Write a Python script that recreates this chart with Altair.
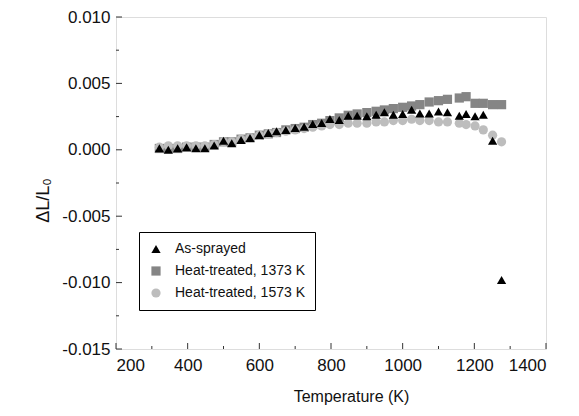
import altair as alt
import pandas as pd

temps = [321, 346, 372, 397, 423, 448, 474, 500, 523, 549, 574, 600, 625, 648, 674, 700,
         725, 749, 774, 797, 823, 848, 873, 900, 926, 949, 974, 1000, 1025, 1048, 1074,
         1100, 1125, 1158, 1177, 1202, 1225, 1251, 1276]

as_sprayed = [0.00011, 0.00001, 0.00011, 0.00019, 0.00011, 0.00011, 0.00032, 0.00069,
              0.00049, 0.00074, 0.00089, 0.00112, 0.00127, 0.00139, 0.00149, 0.00164,
              0.00174, 0.00194, 0.00202, 0.00232, 0.00224, 0.00257, 0.00257, 0.00252,
              0.00264, 0.00282, 0.00264, 0.00269, 0.00302, 0.00274, 0.00274, 0.00289,
              0.00282, 0.00257, 0.00269, 0.00252, 0.00264, 0.00069, -0.0098]

heat_1373 = [0.0001, 0.0001, 0.0001, 0.0002, 0.0002, 0.0002, 0.0004, 0.0006, 0.0006,
             0.0008, 0.0009, 0.0011, 0.0012, 0.0013, 0.0015, 0.0016, 0.0017, 0.0019,
             0.0020, 0.0022, 0.0024, 0.0026, 0.0027, 0.0028, 0.0029, 0.0030, 0.0031,
             0.0032, 0.0033, 0.0034, 0.0036, 0.0037, 0.0038, 0.0039, 0.0040, 0.0035,
             0.0035, 0.0034, 0.0034]

heat_1573 = [0.0002, 0.0003, 0.0003, 0.0003, 0.0003, 0.0003, 0.0004, 0.0006, 0.0006,
             0.0008, 0.0009, 0.0011, 0.0012, 0.0013, 0.0014, 0.0015, 0.0016, 0.0017,
             0.0018, 0.0019, 0.0019, 0.0020, 0.0020, 0.0020, 0.0021, 0.0021, 0.0022,
             0.0022, 0.0023, 0.0022, 0.0022, 0.0021, 0.0021, 0.0020, 0.0019, 0.0018,
             0.0015, 0.0011, 0.0006]

series_names = ["As-sprayed", "Heat-treated, 1373 K", "Heat-treated, 1573 K"]
series_colors = ["#000000", "#858585", "#bdbdbd"]
series_shapes = ["triangle-up", "square", "circle"]

x_major = [200, 400, 600, 800, 1000, 1200, 1400]
x_minor = [300, 500, 700, 900, 1100, 1300]
y_major = [-0.015, -0.010, -0.005, 0.0, 0.005, 0.010]
y_minor = [-0.0125, -0.0075, -0.0025, 0.0025, 0.0075]

FONT = "Liberation Sans"
W, H = 430, 332
X_TITLE = "Temperature (K)"
Y_TITLE = "ΔL/L₀"

rows = []
# draw order: squares, circles, then triangles on top
for name, vals in [(series_names[1], heat_1373), (series_names[2], heat_1573), (series_names[0], as_sprayed)]:
    for t, v in zip(temps, vals):
        rows.append({"T": t, "dL": v, "series": name})
df = pd.DataFrame(rows)

xscale = alt.Scale(domain=[200, 1400], nice=False, zero=False)
yscale = alt.Scale(domain=[-0.015, 0.010], nice=False, zero=False)

xaxis = alt.Axis(values=x_major, tickSize=0, domain=False, grid=False, format="d",
                 labelFont=FONT, labelFontSize=17, labelPadding=8, labelColor="#111",
                 titleFont=FONT, titleFontSize=16, titleFontWeight="normal", titleColor="#111",
                 titleX=235, titleY=39, titleBaseline="top")
yaxis = alt.Axis(values=y_major, tickSize=0, domain=False, grid=False,
                 labelExpr="(datum.value < -1e-9 ? '-' : '') + format(abs(datum.value), '.3f')",
                 labelFont=FONT, labelFontSize=17, labelPadding=6, labelColor="#111",
                 titleFont=FONT, titleFontSize=18, titleFontWeight="normal", titleColor="#111",
                 titleX=-73, titleY=183, titleAngle=270, titleAlign="center",
                 titleBaseline="middle")

points = alt.Chart(df).mark_point(filled=True, opacity=1, size=85, strokeWidth=0).encode(
    x=alt.X("T:Q", scale=xscale, title=X_TITLE, axis=xaxis),
    y=alt.Y("dL:Q", scale=yscale, title=Y_TITLE, axis=yaxis),
    color=alt.Color("series:N", scale=alt.Scale(domain=series_names, range=series_colors),
                    legend=alt.Legend(title=None, orient="none", legendX=23, legendY=215,
                                      strokeColor="#000", fillColor="white", padding=10,
                                      labelFont=FONT, labelFontSize=14, labelColor="#111",
                                      symbolSize=85, symbolStrokeWidth=0, rowPadding=8,
                                      labelOffset=12)),
    shape=alt.Shape("series:N", scale=alt.Scale(domain=series_names, range=series_shapes)),
)

xmaj = alt.Chart(pd.DataFrame({"T": x_major})).mark_rule(color="#333", strokeWidth=1).encode(
    x=alt.X("T:Q", scale=xscale, title=X_TITLE, axis=xaxis), y=alt.value(H), y2=alt.value(H - 6))
xmin = alt.Chart(pd.DataFrame({"T": x_minor})).mark_rule(color="#333", strokeWidth=1).encode(
    x=alt.X("T:Q", scale=xscale, title=X_TITLE, axis=xaxis), y=alt.value(H), y2=alt.value(H - 3))
ymaj = alt.Chart(pd.DataFrame({"dL": y_major})).mark_rule(color="#333", strokeWidth=1).encode(
    y=alt.Y("dL:Q", scale=yscale, title=Y_TITLE, axis=yaxis), x=alt.value(0), x2=alt.value(6))
ymin = alt.Chart(pd.DataFrame({"dL": y_minor})).mark_rule(color="#333", strokeWidth=1).encode(
    y=alt.Y("dL:Q", scale=yscale, title=Y_TITLE, axis=yaxis), x=alt.value(0), x2=alt.value(3))

chart = alt.layer(points, xmaj, xmin, ymaj, ymin).properties(
    width=W, height=H,
    autosize=alt.AutoSizeParams(type="none"),
    padding={"left": 108, "top": 9, "right": 25, "bottom": 59},
).configure_view(stroke="#333", strokeWidth=1.2).configure(background="white")

chart.save("out.html", embed_options={"renderer": "svg", "actions": False})
